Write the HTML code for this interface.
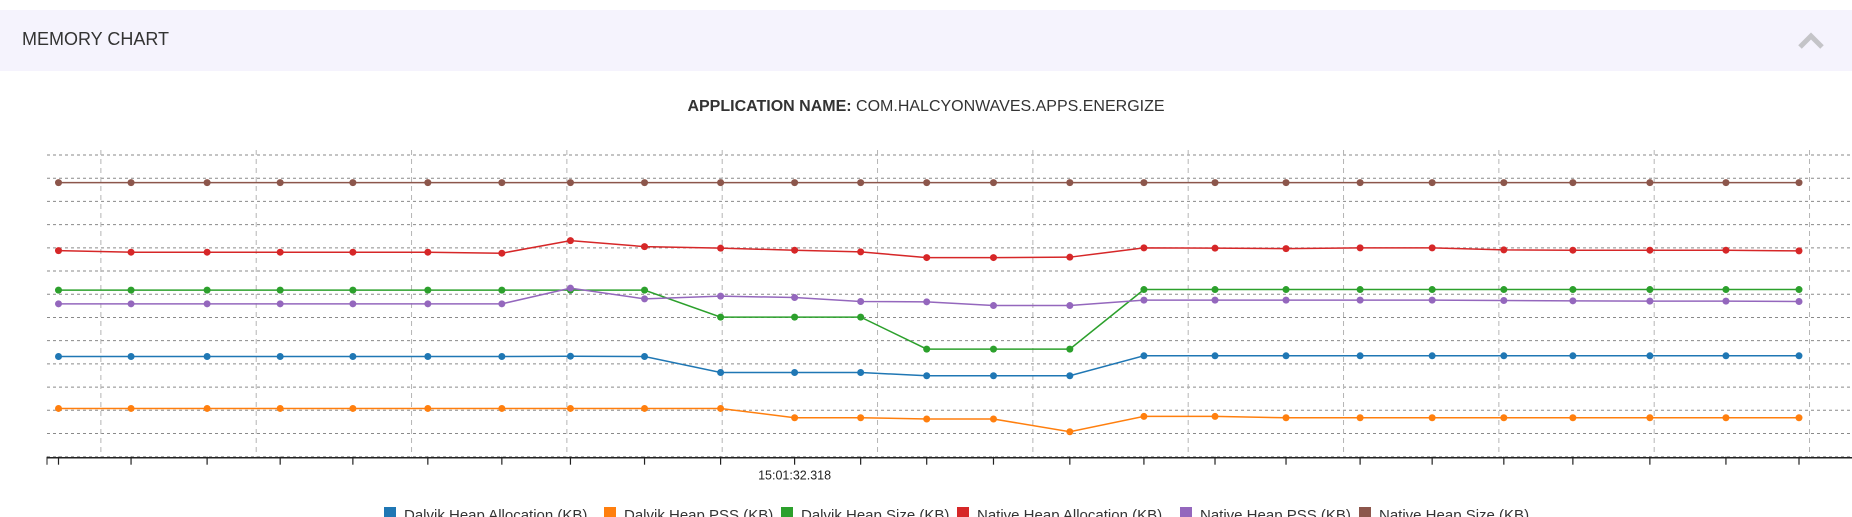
<!DOCTYPE html>
<html><head><meta charset="utf-8">
<style>
html,body{margin:0;padding:0;width:1852px;height:517px;overflow:hidden;background:#fff;font-family:"Liberation Sans",sans-serif;}
#hdr{position:absolute;left:0;top:10px;width:1852px;height:61px;background:#f5f3fd;}
#hdr-title{position:absolute;left:22px;top:29px;font-size:18px;color:#333;line-height:20px;}
#app{position:absolute;left:0;width:1852px;top:98px;text-align:center;font-size:16px;color:#333;line-height:18px;}
svg{position:absolute;left:0;top:0;}
</style></head><body>
<div id="hdr"></div>
<div id="hdr-title">MEMORY CHART</div>
<svg width="1852" height="517">
<polyline points="1800,47 1811,36 1822,47" fill="none" stroke="#c4c4c8" stroke-width="5"/>
<g id="grid"></g><g id="axis"></g><g id="series"></g><g id="legend"></g>
</svg>
<div id="app"><b>APPLICATION NAME:</b> COM.HALCYONWAVES.APPS.ENERGIZE</div>
<script>
const timesMs=[0,993,2034,3034,4029,5055,6068,7007,8021,9062,10075,10979,11883,12797,13842,14856,15829,16801,17815,18801,19782,20727,21781,22822,23822];
const tickLabels=["","","","","","","","","","","15:01:32.318","","","","","","","","","","","","","",""];
const seriesNames=["Dalvik Heap Allocation (KB)","Dalvik Heap PSS (KB)","Dalvik Heap Size (KB)","Native Heap Allocation (KB)","Native Heap PSS (KB)","Native Heap Size (KB)"];
const seriesColors=["#1f77b4","#ff7f0e","#2ca02c","#d62728","#9467bd","#8c564b"];
const dalvikAlloc=[43180,43180,43180,43180,43180,43180,43180,43300,43180,36290,36290,36290,34870,34870,34870,43480,43480,43480,43480,43480,43480,43480,43480,43480,43480];
const dalvikPss=[20790,20790,20790,20790,20790,20790,20790,20790,20790,20790,16790,16790,16230,16230,10760,17350,17350,16790,16790,16790,16790,16790,16790,16790,16790];
const dalvikSize=[71760,71760,71760,71760,71760,71760,71760,71760,71760,60140,60140,60140,46360,46360,46360,72020,72020,72020,72020,72020,72020,72020,72020,72020,72020];
const nativeAlloc=[88810,88120,88120,88120,88120,88120,87690,93120,90530,89850,88980,88250,85800,85800,85970,89970,89850,89670,89970,89970,89110,88980,88980,88980,88680];
const nativePss=[65870,65870,65870,65870,65870,65870,65870,72620,68020,69180,68580,66860,66730,65130,65130,67460,67460,67460,67460,67460,67290,67160,67030,67030,66860];
const nativeSize=[118100,118100,118100,118100,118100,118100,118100,118100,118100,118100,118100,118100,118100,118100,118100,118100,118100,118100,118100,118100,118100,118100,118100,118100,118100];
const yMax=130000,yStep=10000,gridMs=2126;
const allSeries=[dalvikAlloc,dalvikPss,dalvikSize,nativeAlloc,nativePss,nativeSize];
const NS="http://www.w3.org/2000/svg";
const xStart=58.5,xEnd=1799,yTop=155,yBot=456.7,pLeft=47,pRight=1852;
const xs=t=>xStart+(t-timesMs[0])/(timesMs[timesMs.length-1]-timesMs[0])*(xEnd-xStart);
const ys=v=>yBot-v/yMax*(yBot-yTop);
function mk(tag,a,p){const e=document.createElementNS(NS,tag);for(const k in a)e.setAttribute(k,a[k]);p.appendChild(e);return e;}
const grid=document.getElementById('grid'),axis=document.getElementById('axis'),ser=document.getElementById('series'),leg=document.getElementById('legend');
for(let v=0;v<=yMax;v+=yStep){const l=mk('line',{x1:pLeft,x2:pRight,y1:ys(v),y2:ys(v),stroke:'#8a8a8a','stroke-dasharray':'3,3','stroke-width':1},grid);

}
for(let t=timesMs[0]+580;xs(t)<pRight;t+=gridMs){const l=mk('line',{x1:xs(t),x2:xs(t),y1:yTop-5,y2:yBot,stroke:'#b5b5b5','stroke-dasharray':'5,4','stroke-width':1},grid);

}
const ax=mk('line',{x1:pLeft,x2:pRight,y1:yBot+1,y2:yBot+1,stroke:'#222','stroke-width':1.5},axis);


mk('line',{x1:pLeft,x2:pLeft,y1:yBot,y2:yBot+8,stroke:'#222'},axis);
timesMs.forEach((t,i)=>{const tk=mk('line',{x1:xs(t),x2:xs(t),y1:yBot,y2:yBot+8,stroke:'#222','stroke-width':1.2},axis);


if(tickLabels[i]){const tx=mk('text',{x:xs(t),y:yBot+23,'text-anchor':'middle','font-size':12.5,fill:'#222','font-family':'Liberation Sans, sans-serif'},axis);tx.textContent=tickLabels[i];

}});
allSeries.forEach((s,si)=>{const g=mk('g',{},ser);


const pl=mk('polyline',{points:s.map((v,i)=>xs(timesMs[i])+','+ys(v)).join(' '),fill:'none',stroke:seriesColors[si],'stroke-width':1.5},g);


s.forEach((v,i)=>{const c=mk('circle',{cx:xs(timesMs[i]),cy:ys(v),r:3.5,fill:seriesColors[si]},g);

});});
const legX=[384,604,781,957,1180,1359];
seriesNames.forEach((n,i)=>{const g=mk('g',{},leg);


mk('rect',{x:legX[i],y:507,width:12,height:12,fill:seriesColors[i]},g);
const t=mk('text',{x:legX[i]+20,y:520,'font-size':15,fill:'#333','font-family':'Liberation Sans, sans-serif'},g);t.textContent=n;});
</script>
</body></html>
